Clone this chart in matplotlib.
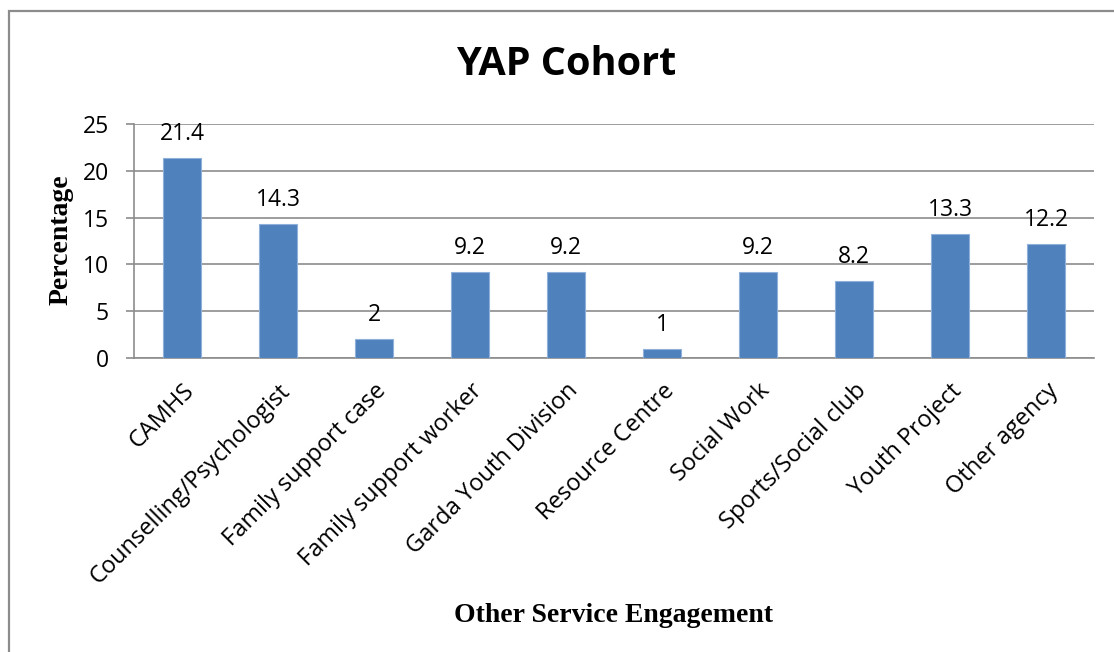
import matplotlib
matplotlib.use("Agg")
import matplotlib.pyplot as plt
from matplotlib.patches import Rectangle

categories = ["CAMHS", "Counselling/Psychologist", "Family support case",
              "Family support worker", "Garda Youth Division", "Resource Centre",
              "Social Work", "Sports/Social club", "Youth Project", "Other agency"]
values = [21.4, 14.3, 2, 9.2, 9.2, 1, 9.2, 8.2, 13.3, 12.2]
value_labels = ["21.4", "14.3", "2", "9.2", "9.2", "1", "9.2", "8.2", "13.3", "12.2"]
yticks = [0, 5, 10, 15, 20, 25]

W, H = 1114, 652
PX = 72 / 100  # points per pixel
fig = plt.figure(figsize=(W / 100, H / 100), dpi=100)
fig.patch.set_facecolor("white")

SANS = "Open Sans"
SERIF = "Liberation Serif"

# outer chart border
fig.add_artist(Rectangle((9 / W, -0.1), 1.2, 1 - 11 / H + 0.1, transform=fig.transFigure,
                         fill=False, edgecolor="#8c8c8c", linewidth=1.6))

left, right, top, bottom = 134, 1094, 124, 358
ax = fig.add_axes([left / W, 1 - bottom / H, (right - left) / W, (bottom - top) / H])

x = list(range(len(categories)))
ax.bar(x, values, width=0.4, color="#4F81BD", edgecolor="#8FB0DA", linewidth=0.8, zorder=3)
ax.set_xlim(-0.5, len(categories) - 0.5)
ax.set_ylim(0, 25)
ax.set_yticks(yticks)
ax.yaxis.grid(True, color="#8c8c8c", linewidth=1.2, zorder=0)
for s in ["top", "right"]:
    ax.spines[s].set_visible(False)
for s in ["left", "bottom"]:
    ax.spines[s].set_color("#8c8c8c")
    ax.spines[s].set_linewidth(1.2)

ax.tick_params(axis="y", length=8 * PX, width=1.2, color="#8c8c8c", labelsize=16.5,
               pad=17 * PX)
ax.tick_params(axis="x", length=0, pad=21 * PX)
for lab in ax.get_yticklabels():
    lab.set_fontfamily(SANS)

ax.set_xticks(x)
ax.set_xticklabels(categories, rotation=45, ha="right", va="top", rotation_mode="anchor",
                   fontsize=17, fontfamily=SANS)

for xi, v, t in zip(x, values, value_labels):
    ax.annotate(t, (xi, v), xytext=(0, 18 * PX), textcoords="offset points", ha="center",
                va="baseline", fontsize=16.5, fontfamily=SANS)

fig.text(68 / W, 1 - 240 / H, "Percentage", rotation=90, rotation_mode="anchor",
         ha="center", va="baseline", fontsize=20, fontweight="bold", fontfamily=SERIF)
fig.text(613 / W, 1 - 622 / H, "Other Service Engagement", ha="center", va="baseline",
         fontsize=20, fontweight="bold", fontfamily=SERIF)
fig.text(566 / W, 1 - 75 / H, "YAP Cohort", ha="center", va="baseline",
         fontsize=28.5, fontweight="bold", fontfamily=SANS)

fig.savefig("out.png", dpi=100)
